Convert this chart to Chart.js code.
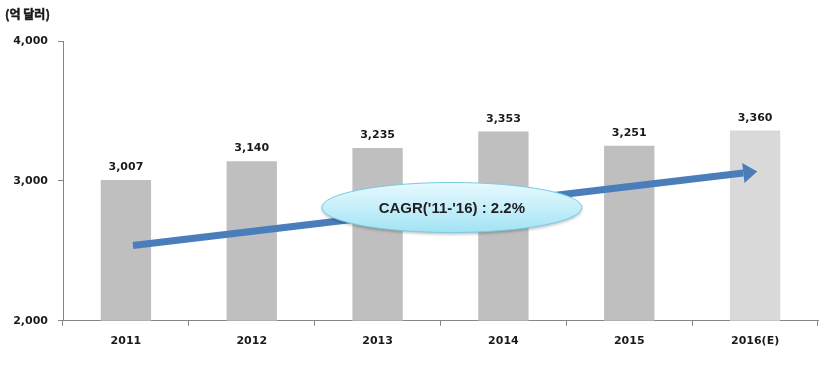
<!DOCTYPE html>
<html>
<head>
<meta charset="utf-8">
<script src="https://cdn.jsdelivr.net/npm/chart.js@4/dist/chart.umd.min.js"></script>
<style>
  html, body { margin: 0; padding: 0; background: #fff; }
  #wrap { width: 825px; height: 365px; }
</style>
</head>
<body>
<div id="wrap"><canvas id="marketChart"></canvas></div>
<script>
// Chart data
const years = ["2011", "2012", "2013", "2014", "2015", "2016(E)"];
const marketSize = [3007, 3140, 3235, 3353, 3251, 3360];
const barColors = ["#bfbfbf", "#bfbfbf", "#bfbfbf", "#bfbfbf", "#bfbfbf", "#d9d9d9"];
const yTicks = [2000, 3000, 4000];
const unitLabel = "(억 달러)";
const cagrLabel = "CAGR('11-'16) : 2.2%";

// Trend arrow and bubble, in axis units (category index, value)
const trendFrom = { x: 0.056, y: 2538 };
const trendTo = { x: 5.017, y: 3068 };
const bubbleAt = { x: 2.59, y: 2810 };

const labelFont = "bold 11px 'DejaVu Sans', sans-serif";

// Draws value labels, trend arrow, CAGR bubble and unit text
const overlayPlugin = {
    id: "overlay",
    afterDatasetsDraw(chart) {
        const ctx = chart.ctx;
        const xs = chart.scales.x;
        const ys = chart.scales.y;

        // value labels
        ctx.save();
        ctx.font = labelFont;
        ctx.fillStyle = "#1a1a1a";
        ctx.textAlign = "center";
        ctx.textBaseline = "alphabetic";
        chart.getDatasetMeta(0).data.forEach((bar, i) => {
            ctx.fillText(marketSize[i].toLocaleString("en-US"), bar.x, bar.y - 10);
        });
        ctx.restore();

        // arrow
        const x1 = xs.getPixelForValue(trendFrom.x), y1 = ys.getPixelForValue(trendFrom.y);
        const x2 = xs.getPixelForValue(trendTo.x), y2 = ys.getPixelForValue(trendTo.y);
        const ang = Math.atan2(y2 - y1, x2 - x1);
        const headLen = 14, headHalf = 10;
        const bx = x2 - headLen * Math.cos(ang), by = y2 - headLen * Math.sin(ang);
        ctx.save();
        ctx.strokeStyle = "#4a7ebb";
        ctx.fillStyle = "#4a7ebb";
        ctx.lineWidth = 7;
        ctx.beginPath();
        ctx.moveTo(x1, y1);
        ctx.lineTo(bx, by);
        ctx.stroke();
        ctx.beginPath();
        ctx.moveTo(x2, y2);
        ctx.lineTo(bx + headHalf * Math.sin(ang), by - headHalf * Math.cos(ang));
        ctx.lineTo(bx - headHalf * Math.sin(ang), by + headHalf * Math.cos(ang));
        ctx.closePath();
        ctx.fill();
        ctx.restore();

        // CAGR bubble
        const cx = xs.getPixelForValue(bubbleAt.x), cy = ys.getPixelForValue(bubbleAt.y);
        const rx = 130, ry = 25;
        ctx.save();
        ctx.shadowColor = "rgba(0,0,0,0.25)";
        ctx.shadowBlur = 3;
        ctx.shadowOffsetY = 2;
        const grad = ctx.createLinearGradient(0, cy - ry, 0, cy + ry);
        grad.addColorStop(0, "#e6f9fe");
        grad.addColorStop(0.5, "#c6effa");
        grad.addColorStop(1, "#a2e3f4");
        ctx.fillStyle = grad;
        ctx.beginPath();
        ctx.ellipse(cx, cy, rx, ry, 0, 0, Math.PI * 2);
        ctx.fill();
        ctx.shadowColor = "transparent";
        ctx.strokeStyle = "#7ccbe2";
        ctx.lineWidth = 1;
        ctx.stroke();
        ctx.fillStyle = "#1f1f1f";
        ctx.font = "bold 15px 'Liberation Sans', Arial, sans-serif";
        ctx.textAlign = "center";
        ctx.textBaseline = "middle";
        ctx.fillText(cagrLabel, cx, cy + 1);
        ctx.restore();

        // unit text
        ctx.save();
        ctx.fillStyle = "#1a1a1a";
        ctx.strokeStyle = "#1a1a1a";
        ctx.lineWidth = 0.5;
        ctx.font = "bold 12px 'Noto Sans CJK KR', sans-serif";
        ctx.textAlign = "left";
        ctx.textBaseline = "middle";
        ctx.fillText(unitLabel, 5, 14);
        ctx.strokeText(unitLabel, 5, 14);
        ctx.restore();
    }
};

const ctx = document.getElementById("marketChart").getContext("2d");
const chart = new Chart(ctx, {
    type: "bar",
    data: {
        labels: years,
        datasets: [{
            data: marketSize,
            backgroundColor: barColors,
            borderWidth: 0,
            categoryPercentage: 1.0,
            barPercentage: 0.4,
        }],
    },
    options: {
        responsive: true,
        maintainAspectRatio: false,
        animation: false,
        layout: {
            padding: { top: 41, right: 7, bottom: 8, left: 0 },
        },
        plugins: {
            legend: { display: false },
            tooltip: { enabled: false },
        },
        scales: {
            x: {
                grid: {
                    offset: true,
                    drawOnChartArea: false,
                    drawTicks: true,
                    tickLength: 5,
                    color: "#868686",
                },
                border: { display: true, color: "#868686", width: 1 },
                ticks: {
                    padding: 9,
                    color: "#1a1a1a",
                    font: { family: "'DejaVu Sans', sans-serif", size: 11, weight: "bold" },
                },
            },
            y: {
                min: 2000,
                max: 4000,
                afterBuildTicks: (scale) => {
                    scale.ticks = yTicks.map(v => ({ value: v }));
                },
                afterFit: (scale) => {
                    scale.width = 63;
                },
                grid: {
                    drawOnChartArea: false,
                    drawTicks: true,
                    tickLength: 5,
                    color: "#868686",
                },
                border: { display: true, color: "#868686", width: 1 },
                ticks: {
                    padding: 10,
                    color: "#1a1a1a",
                    font: { family: "'DejaVu Sans', sans-serif", size: 11, weight: "bold" },
                    callback: (v) => v.toLocaleString("en-US"),
                },
            },
        },
    },
    plugins: [overlayPlugin],
});
</script>
</body>
</html>
